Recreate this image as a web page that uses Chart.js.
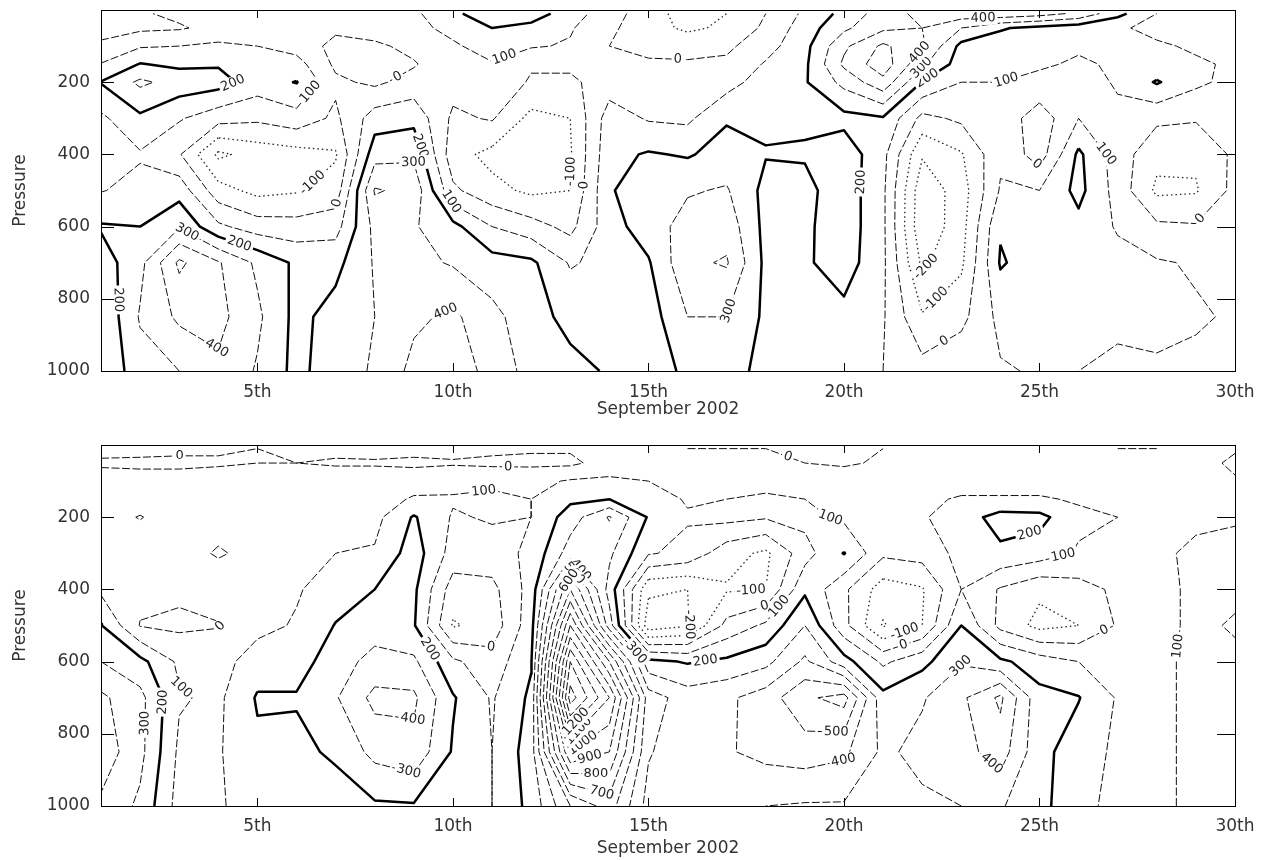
<!DOCTYPE html>
<html>
<head>
<meta charset="utf-8">
<script src="https://cdn.jsdelivr.net/npm/chart.js@4.4.1/dist/chart.umd.min.js"></script>
<style>
  html, body { margin: 0; padding: 0; background: #fff; }
  .panel { position: absolute; left: 0; width: 1264px; height: 430px; }
  #upper { top: 0; }
  #lower { top: 430px; }
</style>
</head>
<body>
<div class="panel" id="upper"><canvas id="upperChart" width="1264" height="430"></canvas></div>
<div class="panel" id="lower"><canvas id="lowerChart" width="1264" height="430"></canvas></div>
<script>
// grid: one column per day of September, pressure levels in hPa (top -> bottom)
const days = [1, 2, 3, 4, 5, 6, 7, 8, 9, 10, 11, 12, 13, 14, 15, 16, 17, 18, 19, 20, 21, 22, 23, 24, 25, 26, 27, 28, 29, 30];
const levels = [10, 50, 100, 150, 200, 300, 400, 500, 600, 700, 850, 1000];
const contourValues = [-400, -300, -200, -100, 0, 100, 200, 300, 400, 500, 600, 700, 800, 900, 1000, 1100, 1200, 1300, 1400, 1500];
const dayTicks = [5, 10, 15, 20, 25, 30];
const pressureTicks = [200, 400, 600, 800, 1000];

// upper panel: one profile per day, values at the pressure levels above
const upperField = [
  [-20, -30, 15, 105, 205, 80, 30, 95, 210, 150, 110, 110],
  [-10, -20, 90, 205, 320, 180, 90, 130, 200, 270, 310, 260],
  [20, -10, 100, 180, 260, 110, 10, 160, 290, 520, 420, 300],
  [40, 30, 120, 190, 240, 40, -220, -60, 120, 410, 430, 380],
  [30, 60, 100, 130, 150, 20, -160, -130, 50, 280, 320, 290],
  [10, 60, 60, 140, 205, 60, -140, -110, 40, 180, 170, 170],
  [30, 20, -30, -20, 20, -20, -110, -60, 60, 170, 240, 260],
  [50, 50, -20, -30, -20, 150, 260, 410, 330, 310, 300, 310],
  [80, 80, 30, -10, 40, 170, 280, 370, 310, 330, 380, 430],
  [180, 120, 90, 80, 40, -20, -60, 20, 230, 290, 420, 450],
  [260, 200, 130, 95, 60, 10, -130, -70, 100, 240, 330, 370],
  [250, 170, 110, 10, -10, -130, -140, -120, 40, 220, 240, 260],
  [150, 110, 90, 20, -20, -100, -110, -100, -30, 90, 170, 230],
  [40, 20, 0, 20, 50, 150, 170, 190, 160, 130, 170, 190],
  [-50, -60, -20, 10, 40, 90, 210, 260, 250, 190, 150, 150],
  [-150, -120, -30, 10, 40, 80, 190, 290, 340, 380, 300, 220],
  [-100, -80, -20, 20, 60, 190, 240, 310, 360, 410, 300, 240],
  [0, 20, 60, 110, 150, 185, 205, 170, 170, 175, 180, 170],
  [120, 150, 170, 180, 190, 185, 210, 170, 180, 185, 160, 140],
  [230, 280, 380, 420, 330, 170, 260, 260, 260, 250, 170, 140],
  [350, 380, 520, 560, 470, 190, 130, 120, 120, 120, 110, 100],
  [430, 400, 420, 320, 195, -30, -190, -270, -280, -220, -90, 40],
  [460, 300, 170, 150, 100, 20, -110, -150, -140, -120, -30, 80],
  [470, 210, 150, 120, 100, 70, 80, 110, 190, 210, 130, 90],
  [440, 170, 130, 110, 80, -60, -50, 100, 150, 150, 130, 110],
  [380, 140, 110, 90, 60, 100, 220, 230, 170, 140, 120, 100],
  [230, 110, 110, 110, 110, 80, 50, 60, 90, 130, 110, 90],
  [100, 80, 110, 130, 210, 20, -70, -120, 20, 110, 120, 90],
  [60, 70, 90, 110, 120, 10, -80, -110, 10, 90, 110, 80],
  [40, 60, 80, 90, 70, 30, 20, 30, 20, 60, 90, 70]
];

// lower panel, same layout
const lowerField = [
  [20, -10, 30, 50, 60, 20, 80, 205, 300, 420, 460, 380],
  [30, -20, 40, 60, 105, 40, 30, -5, 230, 330, 330, 280],
  [20, -20, 40, 50, 50, 60, 20, -20, 80, 110, 80, 60],
  [10, -10, 40, 50, 60, 110, 40, -5, 60, 80, 90, 90],
  [0, 0, 50, 60, 60, 70, 60, 70, 150, 210, 180, 140],
  [10, 0, 50, 60, 60, 100, 90, 110, 150, 210, 170, 150],
  [20, -10, 50, 60, 70, 100, 150, 205, 260, 290, 220, 140],
  [30, -10, 50, 60, 70, 110, 200, 260, 330, 430, 330, 185],
  [30, -20, 60, 110, 210, 250, 220, 210, 320, 420, 370, 190],
  [30, -10, 70, 110, 90, 60, -50, -110, 120, 210, 190, 130],
  [20, -20, 80, 120, 110, 60, -30, -60, 40, 90, 100, 100],
  [10, -20, 70, 100, 100, 120, 140, 160, 190, 220, 250, 230],
  [10, -20, 110, 180, 250, 350, 700, 1000, 1300, 1450, 1000, 500],
  [20, 40, 120, 200, 410, 320, 260, 350, 800, 1100, 900, 650],
  [10, 40, 100, 150, 190, 110, -180, -260, 230, 450, 410, 360],
  [0, 30, 60, 90, 110, 70, -200, -210, 190, 350, 330, 310],
  [0, 20, 70, 100, 130, -60, -110, 30, 220, 380, 390, 320],
  [0, 30, 80, 110, 110, -120, -100, 120, 270, 450, 430, 300],
  [-10, 0, 70, 100, 130, 60, 180, 300, 420, 580, 450, 290],
  [-20, -10, 40, 60, 80, 205, 20, 30, 240, 640, 420, 290],
  [0, 10, 30, 60, 80, 20, -150, -210, 80, 230, 280, 250],
  [10, 20, 50, 80, 90, 40, -110, -100, 170, 290, 330, 280],
  [10, 10, 60, 110, 150, 130, 100, 200, 290, 380, 360, 300],
  [20, 0, 60, 110, 240, 180, -10, -30, 220, 520, 450, 310],
  [20, 10, 60, 110, 230, 150, -80, -130, 150, 230, 230, 230],
  [10, 0, 50, 90, 120, 90, -40, -100, 100, 205, 150, 130],
  [0, 10, 40, 70, 100, 80, 20, 10, 70, 90, 80, 70],
  [0, 20, 40, 60, 80, 80, 70, 70, 80, 80, 80, 80],
  [20, 40, 60, 70, 80, 120, 120, 120, 120, 120, 120, 120],
  [10, -20, 10, 80, 90, 130, 120, 90, 120, 130, 130, 130]
];

// marching squares over the day/pressure grid, returns polylines in data units
function traceContours(field, value) {
  const pos = {};
  const links = {};
  const above = (v) => v > value;

  function edgePoint(key, x0, y0, v0, x1, y1, v1) {
    if (!pos[key]) {
      const t = (value - v0) / (v1 - v0);
      pos[key] = [x0 + t * (x1 - x0), y0 + t * (y1 - y0)];
    }
    return key;
  }
  function link(k1, k2) {
    (links[k1] = links[k1] || []).push(k2);
    (links[k2] = links[k2] || []).push(k1);
  }

  for (let i = 0; i < days.length - 1; i++) {
    for (let j = 0; j < levels.length - 1; j++) {
      const a = field[i][j], b = field[i + 1][j], c = field[i + 1][j + 1], d = field[i][j + 1];
      const x0 = days[i], x1 = days[i + 1], y0 = levels[j], y1 = levels[j + 1];
      const top = above(a) !== above(b) ? edgePoint("h" + i + "_" + j, x0, y0, a, x1, y0, b) : null;
      const right = above(b) !== above(c) ? edgePoint("v" + (i + 1) + "_" + j, x1, y0, b, x1, y1, c) : null;
      const bottom = above(d) !== above(c) ? edgePoint("h" + i + "_" + (j + 1), x0, y1, d, x1, y1, c) : null;
      const left = above(a) !== above(d) ? edgePoint("v" + i + "_" + j, x0, y0, a, x0, y1, d) : null;
      const hits = [top, right, bottom, left].filter((k) => k);
      if (hits.length === 2) {
        link(hits[0], hits[1]);
      } else if (hits.length === 4) {
        // saddle: decide by the cell mean
        if (above((a + b + c + d) / 4) === above(a)) {
          link(top, right);
          link(bottom, left);
        } else {
          link(top, left);
          link(right, bottom);
        }
      }
    }
  }

  const seen = new Set();
  const lines = [];
  function walk(start) {
    const pts = [];
    let prev = null;
    let cur = start;
    let last = start;
    while (cur && !seen.has(cur)) {
      seen.add(cur);
      pts.push(pos[cur]);
      last = cur;
      const next = links[cur].find((k) => k !== prev && !seen.has(k));
      prev = cur;
      cur = next;
    }
    if (pts.length > 2 && links[last].includes(start)) pts.push(pos[start]);
    if (pts.length > 1) lines.push(pts);
  }
  const keys = Object.keys(links);
  keys.filter((k) => links[k].length === 1).forEach((k) => { if (!seen.has(k)) walk(k); });
  keys.forEach((k) => { if (!seen.has(k)) walk(k); });
  return lines;
}

function lineStyle(v) {
  if (v < 0) return { borderWidth: 1.3, borderDash: [1.5, 3], borderColor: "#222" };
  if (v === 200) return { borderWidth: 2.5, borderDash: [], borderColor: "#000" };
  return { borderWidth: 1, borderDash: [8, 2.5], borderColor: "#111" };
}

function buildDatasets(field) {
  const sets = [];
  const labelled = [];
  contourValues.forEach((v) => {
    const lines = traceContours(field, v);
    if (!lines.length) return;
    const data = [];
    lines.forEach((pts) => {
      pts.forEach((p) => data.push({ x: p[0], y: p[1] }));
      data.push({ x: null, y: null });
    });
    sets.push(Object.assign({
      label: String(v),
      data: data,
      showLine: true,
      spanGaps: false,
      fill: false,
      tension: 0,
      pointRadius: 0,
      pointHoverRadius: 0,
      borderJoinStyle: "round"
    }, lineStyle(v)));
    lines.forEach((pts) => labelled.push({ value: v, pts: pts }));
  });
  return { sets, labelled };
}

// inline value labels, one per long enough contour
function labelPlugin(lines) {
  return {
    id: "contourLabels",
    afterDatasetsDraw(chart) {
      const { ctx } = chart;
      const xs = chart.scales.x, ys = chart.scales.y;
      ctx.save();
      ctx.font = '13px "DejaVu Sans"';
      ctx.textAlign = "center";
      ctx.textBaseline = "middle";
      lines.forEach((line) => {
        const px = line.pts.map((p) => [xs.getPixelForValue(p[0]), ys.getPixelForValue(p[1])]);
        const seg = [];
        let total = 0;
        for (let k = 1; k < px.length; k++) {
          const len = Math.hypot(px[k][0] - px[k - 1][0], px[k][1] - px[k - 1][1]);
          seg.push(len);
          total += len;
        }
        if (total < 140) return;
        let target = total * 0.5;
        let k = 0;
        while (k < seg.length - 1 && target > seg[k]) { target -= seg[k]; k++; }
        const p0 = px[k], p1 = px[k + 1];
        const t = seg[k] ? target / seg[k] : 0;
        const cx = p0[0] + t * (p1[0] - p0[0]);
        const cy = p0[1] + t * (p1[1] - p0[1]);
        let ang = Math.atan2(p1[1] - p0[1], p1[0] - p0[0]);
        if (ang > Math.PI / 2) ang -= Math.PI;
        if (ang < -Math.PI / 2) ang += Math.PI;
        const text = String(line.value);
        const w = ctx.measureText(text).width;
        ctx.save();
        ctx.translate(cx, cy);
        ctx.rotate(ang);
        ctx.fillStyle = "#fff";
        ctx.fillRect(-w / 2 - 2, -7, w + 4, 14);
        ctx.fillStyle = "#222";
        ctx.fillText(text, 0, 0);
        ctx.restore();
      });
      ctx.restore();
    }
  };
}

// plot frame with inward tick marks
const framePlugin = {
  id: "frame",
  afterDraw(chart) {
    const { ctx, chartArea: a } = chart;
    const xs = chart.scales.x, ys = chart.scales.y;
    ctx.save();
    ctx.strokeStyle = "#000";
    ctx.lineWidth = 1;
    ctx.strokeRect(a.left + 0.5, a.top + 0.5, a.right - a.left, a.bottom - a.top);
    ctx.beginPath();
    pressureTicks.forEach((p) => {
      const py = Math.round(ys.getPixelForValue(p)) + 0.5;
      ctx.moveTo(a.left, py); ctx.lineTo(a.left + 13, py);
      ctx.moveTo(a.right - 18, py); ctx.lineTo(a.right, py);
    });
    dayTicks.forEach((d) => {
      const px = Math.round(xs.getPixelForValue(d)) + 0.5;
      ctx.moveTo(px, a.bottom); ctx.lineTo(px, a.bottom - 8);
      ctx.moveTo(px, a.top); ctx.lineTo(px, a.top + 8);
    });
    ctx.stroke();
    ctx.restore();
  }
};

const textFont = { family: '"DejaVu Sans", sans-serif', size: 17 };

function makeChart(canvasId, field, box) {
  const { sets, labelled } = buildDatasets(field);
  return new Chart(document.getElementById(canvasId), {
    type: "scatter",
    data: { datasets: sets },
    options: {
      responsive: false,
      animation: false,
      events: [],
      layout: { padding: { top: box.top, right: 29, left: 0, bottom: 0 } },
      plugins: { legend: { display: false }, tooltip: { enabled: false } },
      scales: {
        x: {
          type: "linear",
          min: 1,
          max: 30,
          grid: { display: false, drawTicks: false },
          border: { display: false },
          afterBuildTicks: (s) => { s.ticks = dayTicks.map((v) => ({ value: v })); },
          afterFit: (s) => { s.height = box.axis; s.paddingLeft = 0; s.paddingRight = 0; },
          ticks: {
            padding: box.tickPad,
            color: "#333",
            font: textFont,
            maxRotation: 0,
            autoSkip: false,
            callback: (v) => v + "th"
          },
          title: {
            display: true,
            text: "September 2002",
            color: "#333",
            font: textFont,
            padding: { top: 0, bottom: box.titlePad }
          }
        },
        y: {
          type: "linear",
          min: 0,
          max: 1000,
          reverse: true,
          grid: { display: false, drawTicks: false },
          border: { display: false },
          afterBuildTicks: (s) => { s.ticks = pressureTicks.map((v) => ({ value: v })); },
          afterFit: (s) => { s.width = 101; s.paddingTop = 0; s.paddingBottom = 0; },
          ticks: { padding: 11, color: "#333", font: textFont, callback: (v) => String(v) },
          title: {
            display: true,
            text: "Pressure",
            color: "#333",
            font: textFont,
            padding: { top: 10, bottom: 0 }
          }
        }
      }
    },
    plugins: [framePlugin, labelPlugin(labelled)]
  });
}

makeChart("upperChart", upperField, { top: 10, axis: 59, tickPad: 11, titlePad: 10 });
makeChart("lowerChart", lowerField, { top: 15, axis: 54, tickPad: 10, titlePad: 1 });
</script>
</body>
</html>
